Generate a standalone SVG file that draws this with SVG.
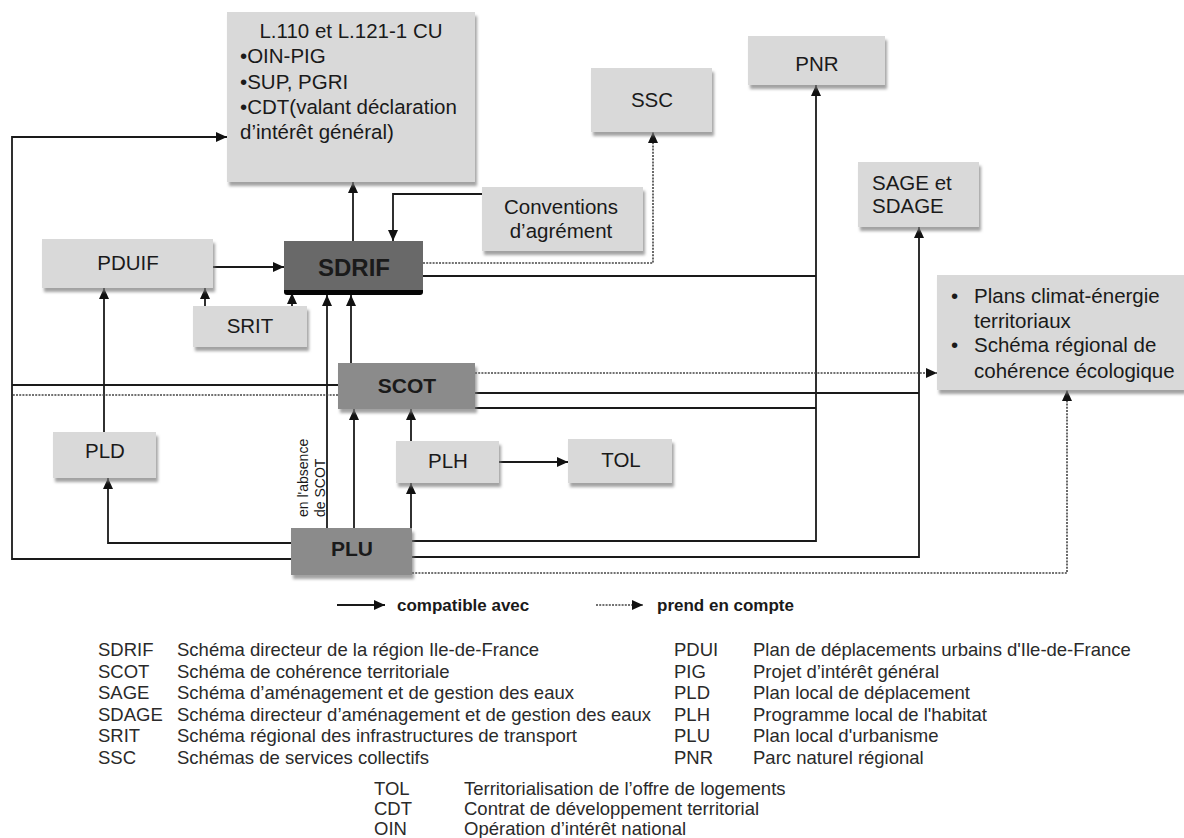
<svg xmlns="http://www.w3.org/2000/svg" width="1184" height="838" viewBox="0 0 1184 838">
<defs>
<filter id="sh" x="-10%" y="-10%" width="125%" height="135%">
<feDropShadow dx="2" dy="4" stdDeviation="1.5" flood-color="#7a7a7a" flood-opacity="0.7"/>
</filter>
<marker id="ah" markerUnits="userSpaceOnUse" markerWidth="11" markerHeight="10" refX="11" refY="5" orient="auto">
<path d="M0,0 L11,5 L0,10 z" fill="#111"/>
</marker>
</defs>
<style>
.lt{fill:#d9d9d9;filter:url(#sh)}
.md{fill:#8b8b8b;filter:url(#sh)}
.t{font-family:"Liberation Sans",Arial,sans-serif;font-size:20.5px;fill:#1a1a1a}
.c{text-anchor:middle}
.b{font-weight:bold}
.ln{fill:none;stroke:#1a1a1a;stroke-width:1.8}
.arr{marker-end:url(#ah)}
.dt{fill:none;stroke:#444;stroke-width:1.6;stroke-dasharray:2 1.2}
.lg{font-family:"Liberation Sans",Arial,sans-serif;font-size:18.5px;fill:#2a2a2a}
.lb{font-family:"Liberation Sans",Arial,sans-serif;font-size:17px;font-weight:bold;fill:#1a1a1a}
</style>
<rect width="1184" height="838" fill="#fff"/>

<g id="connectors">
<path class="ln arr" d="M291,559 H12 V137 H227"/>
<path class="ln arr" d="M291,543 H108 V478"/>
<path class="ln arr" d="M104,432 V288"/>
<path class="ln arr" d="M213,267 H284"/>
<path class="ln arr" d="M205,306 V288"/>
<path class="ln arr" d="M292,306 V293"/>
<path class="ln arr" d="M327,528 V295"/>
<path class="ln arr" d="M351,363 V295"/>
<path class="ln arr" d="M353,241 V182"/>
<path class="ln arr" d="M482,194 H393 V241"/>
<path class="dt arr" d="M423,263 H653 V132"/>
<path class="ln" d="M423,276 H816"/>
<path class="ln arr" d="M412,541 H816 V85"/>
<path class="ln" d="M475,408 H816"/>
<path class="ln" d="M475,393 H919"/>
<path class="ln arr" d="M412,557 H919 V227"/>
<path class="dt arr" d="M475,373 H937"/>
<path class="dt arr" d="M412,573 H1067 V390"/>
<path class="ln" d="M338,385 H12"/>
<path class="dt" d="M338,395 H12"/>
<path class="ln arr" d="M354,528 V409"/>
<path class="ln arr" d="M411,441 V409"/>
<path class="ln arr" d="M411,528 V483"/>
<path class="ln arr" d="M499,462 H568"/>
</g>

<g id="n-l110">
<rect class="lt" x="227" y="12" width="248" height="170"/>
<text class="t c" x="351" y="38">L.110 et L.121-1 CU</text>
<text class="t" x="240" y="63">•OIN-PIG</text>
<text class="t" x="240" y="89">•SUP, PGRI</text>
<text class="t" x="240" y="114">•CDT(valant déclaration</text>
<text class="t" x="240" y="139">d’intérêt général)</text>
</g>
<g id="n-ssc">
<rect class="lt" x="591" y="68" width="121" height="64"/>
<text class="t c" x="652" y="107">SSC</text>
</g>
<g id="n-pnr">
<rect class="lt" x="748" y="36" width="137" height="49"/>
<text class="t c" x="817" y="71">PNR</text>
</g>
<g id="n-conv">
<rect class="lt" x="482" y="187" width="161" height="64"/>
<text class="t c" x="561" y="214">Conventions</text>
<text class="t c" x="561" y="238">d’agrément</text>
</g>
<g id="n-sage">
<rect class="lt" x="858" y="162" width="121" height="65"/>
<text class="t" x="872" y="190">SAGE et</text>
<text class="t" x="872" y="213">SDAGE</text>
</g>
<g id="n-plans">
<rect class="lt" x="937" y="275" width="247" height="115"/>
<text class="t" x="951" y="303">•</text>
<text class="t" x="974" y="303">Plans climat-énergie</text>
<text class="t" x="974" y="328">territoriaux</text>
<text class="t" x="951" y="352">•</text>
<text class="t" x="974" y="352">Schéma régional de</text>
<text class="t" x="974" y="378">cohérence écologique</text>
</g>
<g id="n-pduif">
<rect class="lt" x="42" y="239" width="171" height="49"/>
<text class="t c" x="128" y="270">PDUIF</text>
</g>
<g id="n-sdrif">
<rect x="284" y="246" width="139" height="49" rx="3" fill="#050505"/>
<rect x="284" y="241" width="139" height="49" fill="#696969"/>
<text class="t c b" x="354" y="276" style="font-size:24px">SDRIF</text>
</g>
<g id="n-srit">
<rect class="lt" x="193" y="306" width="114" height="41"/>
<text class="t c" x="250" y="333">SRIT</text>
</g>
<g id="n-scot">
<rect class="md" x="338" y="363" width="137" height="46"/>
<text class="t c b" x="407" y="393" style="font-size:21px">SCOT</text>
</g>
<g id="n-pld">
<rect class="lt" x="53" y="432" width="103" height="46"/>
<text class="t c" x="105" y="458">PLD</text>
</g>
<g id="n-plh">
<rect class="lt" x="396" y="441" width="103" height="42"/>
<text class="t c" x="448" y="468">PLH</text>
</g>
<g id="n-tol">
<rect class="lt" x="568" y="439" width="104" height="44"/>
<text class="t c" x="621" y="467">TOL</text>
</g>
<g id="n-plu">
<rect class="md" x="291" y="528" width="121" height="47"/>
<text class="t c b" x="352" y="556" style="font-size:21px">PLU</text>
</g>
<g id="label-absence">
<text class="t" transform="translate(308,517) rotate(-90)" style="font-size:14px">en l'absence</text>
<text class="t" transform="translate(325,517) rotate(-90)" style="font-size:14px">de SCOT</text>
</g>

<g id="legend">
<path class="ln arr" d="M337,605 H385"/>
<text class="lb" x="397" y="611">compatible avec</text>
<path class="dt arr" d="M596,605 H643"/>
<text class="lb" x="657" y="611">prend en compte</text>
<g class="lg">
<text x="98" y="656">SDRIF</text><text x="177" y="656">Schéma directeur de la région Ile-de-France</text>
<text x="98" y="678">SCOT</text><text x="177" y="678">Schéma de cohérence territoriale</text>
<text x="98" y="699">SAGE</text><text x="177" y="699">Schéma d’aménagement et de gestion des eaux</text>
<text x="98" y="721">SDAGE</text><text x="177" y="721">Schéma directeur d’aménagement et de gestion des eaux</text>
<text x="98" y="742">SRIT</text><text x="177" y="742">Schéma régional des infrastructures de transport</text>
<text x="98" y="764">SSC</text><text x="177" y="764">Schémas de services collectifs</text>
<text x="674" y="656">PDUI</text><text x="753" y="656">Plan de déplacements urbains d'Ile-de-France</text>
<text x="674" y="678">PIG</text><text x="753" y="678">Projet d’intérêt général</text>
<text x="674" y="699">PLD</text><text x="753" y="699">Plan local de déplacement</text>
<text x="674" y="721">PLH</text><text x="753" y="721">Programme local de l'habitat</text>
<text x="674" y="742">PLU</text><text x="753" y="742">Plan local d'urbanisme</text>
<text x="674" y="764">PNR</text><text x="753" y="764">Parc naturel régional</text>
<text x="374" y="795">TOL</text><text x="464" y="795">Territorialisation de l’offre de logements</text>
<text x="374" y="815">CDT</text><text x="464" y="815">Contrat de développement territorial</text>
<text x="374" y="835">OIN</text><text x="464" y="835">Opération d’intérêt national</text>
</g>
</g>
</svg>
